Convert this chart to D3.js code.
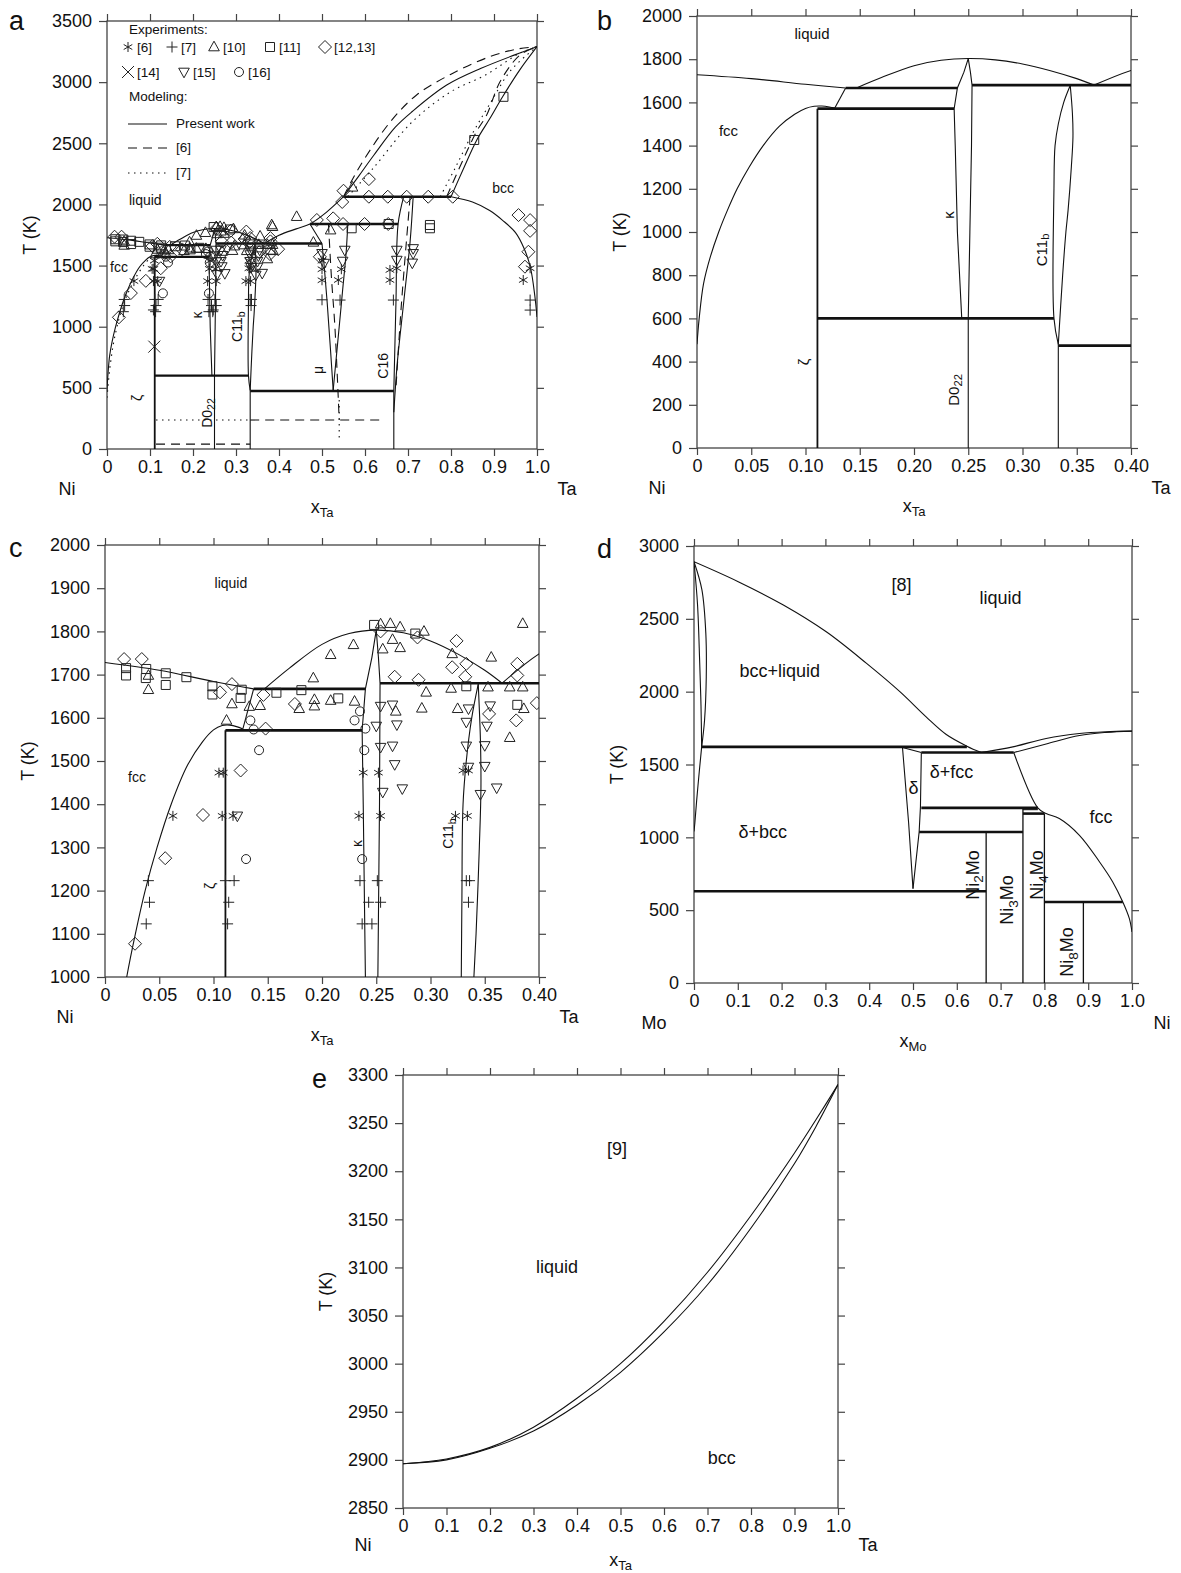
<!DOCTYPE html>
<html>
<head>
<meta charset="utf-8">
<script src="https://cdn.jsdelivr.net/npm/d3@7"></script>
<style>
  body { margin: 0; background: #fff; }
  svg text { font-family: "Liberation Sans", Arial, Helvetica, sans-serif; fill: #111; }
</style>
</head>
<body>
<svg id="fig" width="1181" height="1573"></svg>
<script>
const FONT = '"Liberation Sans", Arial, Helvetica, sans-serif'

// ---------- Ni-Ta, present work (a, b, c) ----------
const fccSolvus = [[0,480],[0.002,600],[0.006,760],[0.012,880],[0.02,1000],[0.028,1100],[0.037,1200],[0.048,1300],[0.061,1400],[0.076,1490],[0.09,1545],[0.10,1572],[0.108,1582],[0.115,1583],[0.122,1579],[0.127,1574]]
const liqNiSide = [[0,1728],[0.05,1710],[0.10,1684],[0.137,1667]]
const fccZetaLine = [[0.127,1574],[0.137,1667]]
const kappaLiquidus = [[0.147,1667],[0.17,1715],[0.20,1770],[0.225,1795],[0.25,1803],[0.275,1797],[0.30,1778],[0.325,1748],[0.35,1710],[0.366,1680]]
const liqMu = [[0.366,1680],[0.40,1748],[0.44,1800],[0.472,1840],[0.51,1935],[0.55,2063]]
const kappaLeft = [[0.25,1803],[0.246,1740],[0.240,1667],[0.237,1571],[0.238,1400],[0.240,1000],[0.242,800],[0.244,600]]
const kappaRight = [[0.25,1803],[0.252,1740],[0.2535,1680],[0.253,1400],[0.2515,1000],[0.25,600]]
const c11bLeft = [[0.344,1678],[0.338,1600],[0.333,1500],[0.330,1400],[0.329,1200],[0.329,600],[0.333,480]]
const c11bRight = [[0.344,1678],[0.346,1550],[0.3465,1440],[0.345,1300],[0.342,1100],[0.340,1000],[0.337,800],[0.333,480]]
const liqTa = [[0.55,2063],[0.585,2230],[0.62,2400],[0.67,2630],[0.71,2760],[0.79,2976],[0.87,3113],[0.95,3225],[1.0,3290]]
const solTa = [[0.80,2063],[0.83,2300],[0.86,2527],[0.89,2700],[0.92,2880],[0.96,3100],[1.0,3290]]
const solvusTa = [[0.80,2063],[0.85,2020],[0.89,1950],[0.92,1870],[0.95,1770],[0.97,1640],[0.985,1480],[0.995,1250],[1.0,1080]]
const muLeft = [[0.472,1840],[0.50,1680],[0.505,1500],[0.512,1200],[0.52,800],[0.526,482]]
const muRight = [[0.56,1840],[0.556,1600],[0.548,1300],[0.54,1000],[0.526,482]]
const c16Left = [[0.69,2063],[0.677,1840],[0.672,1200],[0.667,474]]
const c16Right = [[0.712,2063],[0.705,1700],[0.69,1200],[0.675,700],[0.667,300]]
// [x1, x2, T]
const niTaInvariants = [[0.137,0.240,1667],[0.2535,0.50,1680],[0.111,0.237,1571],[0.111,0.329,600],[0.333,0.667,474],[0.472,0.677,1840],[0.55,0.80,2063]]
// [x, T1, T2]
const niTaVerticals = [[0.25,0,600],[0.333,0,480],[0.667,0,474]]
const zetaLine = [[0.111,0],[0.111,1571]]

// ---------- Ni-Ta, earlier modeling (a) ----------
const liqTa6 = [[0.55,2063],[0.57,2200],[0.60,2380],[0.66,2680],[0.72,2895],[0.80,3065],[0.89,3208],[0.95,3268],[1.0,3290]]
const solTa6 = [[0.79,2063],[0.83,2380],[0.86,2600],[0.883,2731],[0.914,3003],[0.96,3220],[1.0,3290]]
const mu6 = [[0.515,1840],[0.522,1400],[0.53,1000],[0.54,237]]
const c16_6 = [[0.705,2063],[0.685,1200],[0.672,500]]
const low6 = [[0.114,0.333,40],[0.333,0.64,237]]
const liqTa7 = [[0.56,2063],[0.62,2300],[0.71,2676],[0.80,2922],[0.88,3058],[0.96,3236],[1.0,3290]]
const solTa7 = [[0.775,2063],[0.81,2300],[0.85,2580],[0.89,2820],[0.94,3100],[1.0,3290]]
const fcc7 = [[0,420],[0.008,700],[0.02,950],[0.04,1200],[0.07,1420],[0.10,1560],[0.12,1600]]
const mu7 = [[0.54,400],[0.54,80]]
const low7 = [[0.114,0.333,237]]

// ---------- experiments (x, T) ----------
const exp6 = [[0.105,1473],[0.109,1473],[0.238,1473],[0.252,1473],[0.330,1478],[0.335,1478],[0.0626,1373],[0.108,1373],[0.118,1373],[0.234,1373],[0.254,1373],[0.323,1373],[0.334,1373]]
const exp7 = [[0.040,1223],[0.041,1173],[0.038,1123],[0.111,1223],[0.119,1223],[0.114,1173],[0.113,1123],[0.235,1223],[0.251,1223],[0.243,1173],[0.254,1173],[0.237,1123],[0.246,1123],[0.333,1223],[0.336,1223],[0.335,1173]]
const exp10 = [[0.040,1665],[0.040,1698],[0.112,1594],[0.117,1632],[0.133,1626],[0.143,1628],[0.179,1621],[0.192,1692],[0.193,1642],[0.193,1627],[0.208,1746],[0.208,1640],[0.229,1769],[0.230,1638],[0.254,1817],[0.263,1818],[0.272,1810],[0.256,1759],[0.265,1781],[0.272,1762],[0.294,1800],[0.296,1659],[0.292,1622],[0.320,1748],[0.319,1668],[0.325,1621],[0.356,1740],[0.353,1671],[0.373,1671],[0.385,1671],[0.385,1818],[0.373,1554],[0.386,1621],[0.268,1615]]
const exp11 = [[0.0194,1715],[0.0194,1698],[0.038,1713],[0.0376,1692],[0.056,1703],[0.056,1676],[0.075,1694],[0.099,1673],[0.099,1654],[0.126,1665],[0.125,1646],[0.158,1658],[0.181,1664],[0.215,1645],[0.248,1815],[0.286,1795],[0.333,1673],[0.380,1630]]
const exp12 = [[0.0176,1736],[0.0339,1736],[0.117,1678],[0.106,1659],[0.146,1653],[0.175,1632],[0.148,1575],[0.267,1695],[0.289,1688],[0.288,1786],[0.324,1778],[0.320,1717],[0.333,1725],[0.332,1695],[0.354,1609],[0.380,1725],[0.380,1698],[0.379,1594],[0.398,1634],[0.125,1478],[0.0903,1375],[0.0555,1275],[0.0277,1077],[0.254,1800]]
const exp15 = [[0.254,1627],[0.265,1630],[0.269,1584],[0.250,1581],[0.254,1532],[0.265,1535],[0.267,1492],[0.256,1428],[0.274,1436],[0.335,1621],[0.333,1590],[0.355,1628],[0.352,1581],[0.333,1535],[0.350,1536],[0.335,1486],[0.350,1488],[0.346,1423],[0.361,1438],[0.122,1373]]
const exp16 = [[0.134,1594],[0.137,1573],[0.142,1525],[0.235,1615],[0.230,1594],[0.240,1575],[0.239,1525],[0.130,1273],[0.237,1273]]
// points only visible in the full range of panel a
const exp6Wide = [[0.538,1382],[0.658,1464],[0.658,1382],[0.674,1478],[0.968,1382],[0.984,1478],[0.50,1470],[0.50,1380],[0.545,1470],[0.11,1540],[0.24,1540],[0.33,1540],[0.50,1540]]
const exp7Wide = [[0.542,1218],[0.666,1218],[0.984,1218],[0.984,1136],[0.50,1220],[0.108,1137],[0.247,1137]]
const exp10Wide = [[0.571,2140],[0.383,1832],[0.441,1900],[0.52,1790],[0.48,1690]]
const exp11Wide = [[0.854,2527],[0.922,2880],[0.569,1805],[0.655,1840],[0.751,1832],[0.751,1805]]
const exp12Wide = [[0.488,1873],[0.526,1886],[0.549,1840],[0.599,1840],[0.654,1840],[0.55,2112],[0.547,2020],[0.609,2207],[0.609,2063],[0.653,2063],[0.697,2063],[0.747,2063],[0.804,2063],[0.495,1572],[0.957,1913],[0.984,1872],[0.984,1784],[0.98,1613],[0.972,1491]]
const exp14Wide = [[0.11,837]]
const exp15Wide = [[0.553,1627],[0.548,1537],[0.674,1627],[0.674,1545],[0.712,1640],[0.712,1600],[0.71,1522],[0.50,1600],[0.505,1520]]

// ---------- Mo-Ni (d), x = x_Mo axis as printed ----------
const moLiquidus = [[0,2892],[0.101,2755],[0.204,2595],[0.302,2411],[0.394,2194],[0.47,2000],[0.53,1827],[0.576,1706],[0.623,1626],[0.656,1582]]
const moBccOuter = [[0,2892],[0.018,2700],[0.027,2400],[0.028,2100],[0.024,1800],[0.0175,1621]]
const moBccInner = [[0,2892],[0.008,2600],[0.013,2200],[0.016,1900],[0.0175,1621]]
const moBccSolvus = [[0.0175,1621],[0.012,1450],[0.006,1250],[0.002,1100],[0,1040]]
const deltaTop = [[0.476,1617],[0.519,1582]]
const deltaLeft = [[0.476,1617],[0.49,1100],[0.5,648]]
const deltaRight = [[0.519,1582],[0.517,1209],[0.514,1037],[0.5,648]]
const niLiquidus = [[0.656,1582],[0.728,1621],[0.804,1679],[0.88,1713],[0.94,1725],[1.0,1729]]
const niSolidus = [[0.730,1582],[0.804,1641],[0.88,1699],[0.94,1720],[1.0,1729]]
const niFccSolvus = [[0.730,1582],[0.785,1202],[0.804,1163],[0.834,1129],[0.88,1014],[0.926,831],[0.956,694],[0.979,556],[0.994,442],[1.0,350]]
const moNiInvariants = [[0.0175,0.623,1621],[0.519,0.730,1582],[0.519,0.785,1202],[0.751,0.80,1163],[0.514,0.751,1037],[0,0.667,630],[0.80,0.979,556]]
const moNiThin = [[0.751,0.785,1190]]
const moNiVerticals = [[0.667,0,1037],[0.751,0,1202],[0.80,0,1163],[0.889,0,556]]

// ---------- Ni-Ta high temperature (e) ----------
const eLiquidus = [[0,2896],[0.1,2901],[0.2,2913],[0.3,2934],[0.4,2964],[0.5,3000],[0.6,3044],[0.7,3095],[0.8,3154],[0.9,3219],[0.95,3254],[1.0,3290]]
const eSolidus = [[0,2896],[0.1,2900],[0.2,2912],[0.3,2930],[0.4,2957],[0.5,2991],[0.6,3033],[0.7,3082],[0.8,3141],[0.9,3208],[0.95,3247],[1.0,3290]]

// ---------- ticks ----------
const ticksX10 = [0,0.1,0.2,0.3,0.4,0.5,0.6,0.7,0.8,0.9,1.0]
const ticksX04 = [0,0.05,0.10,0.15,0.20,0.25,0.30,0.35,0.40]
const ticksYa = [0,500,1000,1500,2000,2500,3000,3500]
const ticksYb = [0,200,400,600,800,1000,1200,1400,1600,1800,2000]
const ticksYc = [1000,1100,1200,1300,1400,1500,1600,1700,1800,1900,2000]
const ticksYd = [0,500,1000,1500,2000,2500,3000]
const ticksYe = [2850,2900,2950,3000,3050,3100,3150,3200,3250,3300]

// ---------- region labels [parts, x, T, size, rotated] ----------
const labelsA = [
  [[["liquid"]],0.051,2036,14,0,"start"],[[["fcc"]],0.007,1488,14,0,"start"],[[["bcc"]],0.921,2134,14,0],
  [[["κ"]],0.209,1096,14,1],[[["C11"],["b",1]],0.302,1000,14,1],[[["ζ"]],0.07,417,14,1],
  [[["D0"],["22",1]],0.233,294,14,1],[[["μ"]],0.49,646,14,1],[[["C16"]],0.642,680,14,1]
]
const labelsB = [
  [[["liquid"]],0.106,1921,15,0],[[["fcc"]],0.029,1472,15,0],[[["κ"]],0.231,1079,15,1],
  [[["C11"],["b",1]],0.317,917,15,1],[[["ζ"]],0.098,398,15,1],[[["D0"],["22",1]],0.236,269,15,1]
]
const labelsC = [
  [[["liquid"]],0.116,1912,14,0],[[["fcc"]],0.0295,1462,14,0],[[["ζ"]],0.097,1211,14,1],
  [[["κ"]],0.232,1309,14,1],[[["C11"],["b",1]],0.316,1332,14,1]
]
const labelsD = [
  [[["[8]"]],0.474,2732,18,0],[[["liquid"]],0.70,2642,18,0],[[["bcc+liquid"]],0.196,2141,18,0],
  [[["δ+fcc"]],0.588,1448,18,0],[[["δ"]],0.501,1338,18,0],[[["δ+bcc"]],0.157,1036,18,0],[[["fcc"]],0.929,1139,18,0],
  [[["Ni"],["2",1],["Mo"]],0.636,741,18,1],[[["Ni"],["3",1],["Mo"]],0.715,570,18,1],
  [[["Ni"],["4",1],["Mo"]],0.784,741,18,1],[[["Ni"],["8",1],["Mo"]],0.852,213,18,1]
]
const labelsE = [[[["[9]"]],0.492,3223,18,0],[[["liquid"]],0.354,3100,18,0],[[["bcc"]],0.733,2902,18,0]]

const svg = d3.select("#fig")
const defs = svg.append("defs")
const f1 = d => d === 0 ? "0" : d.toFixed(1)
const f2 = d => d === 0 ? "0" : d.toFixed(2)

const SYM = {
  star: "M0,-5V5M-4.3,-2.5L4.3,2.5M-4.3,2.5L4.3,-2.5",
  plus: "M-5.5,0H5.5M0,-5.5V5.5",
  tri: "M0,-5.8L5.3,3.8H-5.3Z",
  triD: "M0,5.8L5.3,-3.8H-5.3Z",
  sq: "M-4.5,-4.5H4.5V4.5H-4.5Z",
  dia: "M0,-6.5L6.5,0L0,6.5L-6.5,0Z",
  x: "M-6,-6L6,6M-6,6L6,-6",
  circ: "M4.5,0A4.5,4.5 0 1,1 -4.5,0A4.5,4.5 0 1,1 4.5,0Z"
}

function panel(o) {
  const g = svg.append("g").attr("transform", `translate(${o.left},${o.top})`)
  const x = d3.scaleLinear().domain(o.xd).range([0, o.w])
  const y = d3.scaleLinear().domain(o.yd).range([o.h, 0])
  defs.append("clipPath").attr("id", "clip" + o.name)
    .append("rect").attr("width", o.w).attr("height", o.h)

  const axes = [
    [d3.axisLeft(y).tickValues(o.yt).tickFormat(o.yf).tickSize(8).tickPadding(7), null],
    [d3.axisBottom(x).tickValues(o.xt).tickFormat(o.xf).tickSize(7).tickPadding(4), `translate(0,${o.h})`],
    [d3.axisTop(x).tickValues(o.xt).tickFormat("").tickSize(7), null],
    [d3.axisRight(y).tickValues(o.yt).tickFormat("").tickSize(7), `translate(${o.w},0)`]
  ]
  axes.forEach(([ax, tr]) => {
    const a = g.append("g").attr("transform", tr).call(ax.tickSizeOuter(0))
    a.select(".domain").remove()
    a.attr("font-size", 18).attr("font-family", FONT)
    a.selectAll("line").attr("stroke", "#444").attr("stroke-width", 1.2)
    a.selectAll("text").attr("fill", "#111")
  })
  g.append("rect").attr("width", o.w).attr("height", o.h)
    .attr("fill", "none").attr("stroke", "#444").attr("stroke-width", 1.3)

  // axis titles
  const low = o.low || 0
  g.append("text").attr("transform", `translate(-77,${o.h / 2}) rotate(-90)`)
    .attr("text-anchor", "middle").attr("dominant-baseline", "central")
    .attr("font-size", 18).text("T (K)")
  g.append("text").attr("x", -40).attr("y", o.h + 40 - low).attr("text-anchor", "middle")
    .attr("dominant-baseline", "central").attr("font-size", 18).text(o.ends[0])
  g.append("text").attr("x", o.w + 30).attr("y", o.h + 40 - low).attr("text-anchor", "middle")
    .attr("dominant-baseline", "central").attr("font-size", 18).text(o.ends[1])
  const xl = g.append("text").attr("x", o.w / 2).attr("y", o.h + 58 - low * 2).attr("text-anchor", "middle")
    .attr("dominant-baseline", "central").attr("font-size", 18)
  xl.append("tspan").text("x")
  xl.append("tspan").attr("font-size", 13).attr("dy", 5).text(o.sub)

  svg.append("text").attr("x", o.letter[0]).attr("y", o.letter[1])
    .attr("font-size", 27).text(o.name)

  const plot = g.append("g").attr("clip-path", `url(#clip${o.name})`)
  return { g, x, y, plot }
}

function curve(p, pts, opt) {
  opt = opt || {}
  const gen = d3.line().x(d => p.x(d[0])).y(d => p.y(d[1]))
    .curve(opt.linear ? d3.curveLinear : d3.curveCatmullRom.alpha(0.5))
  p.plot.append("path").datum(pts).attr("d", gen)
    .attr("fill", "none").attr("stroke", opt.color || "#111")
    .attr("stroke-width", opt.width || 1.1)
    .attr("stroke-dasharray", opt.dash || null)
}

function hlines(p, arr, opt) {
  arr.forEach(([x1, x2, t]) => curve(p, [[x1, t], [x2, t]], Object.assign({ linear: true }, opt)))
}
function vlines(p, arr, opt) {
  arr.forEach(([xv, t1, t2]) => curve(p, [[xv, t1], [xv, t2]], Object.assign({ linear: true }, opt)))
}

function points(p, pts, type) {
  p.plot.append("g").selectAll("path").data(pts).join("path")
    .attr("transform", d => `translate(${p.x(d[0])},${p.y(d[1])})`)
    .attr("d", SYM[type]).attr("fill", "none")
    .attr("stroke", "#222").attr("stroke-width", 1)
}

function labels(p, arr) {
  arr.forEach(([parts, xv, t, size, rot, anchor]) => {
    const tx = p.x(xv), ty = p.y(t)
    const el = p.g.append("text")
      .attr("transform", rot ? `translate(${tx},${ty}) rotate(-90)` : `translate(${tx},${ty})`)
      .attr("text-anchor", anchor || "middle").attr("dominant-baseline", "central")
      .attr("font-size", size)
    let shifted = false
    parts.forEach(([s, isSub]) => {
      const ts = el.append("tspan").text(s)
      if (isSub) { ts.attr("font-size", size * 0.75).attr("dy", size * 0.3); shifted = true }
      else if (shifted) { ts.attr("dy", -size * 0.3); shifted = false }
    })
  })
}

function niTaPresent(p, thick) {
  curve(p, fccSolvus)
  curve(p, liqNiSide)
  curve(p, fccZetaLine, { linear: true })
  curve(p, kappaLiquidus)
  curve(p, liqMu)
  curve(p, kappaLeft, { linear: true })
  curve(p, kappaRight, { linear: true })
  curve(p, c11bLeft)
  curve(p, c11bRight)
  vlines(p, niTaVerticals)
  curve(p, zetaLine, { linear: true, width: 1.8 })
  hlines(p, niTaInvariants, { width: thick })
}

// ======== panel a ========
const pa = panel({ name: "a", left: 107, top: 21, w: 430, h: 428, xd: [0, 1], yd: [0, 3500],
  xt: ticksX10, yt: ticksYa, xf: f1, yf: d3.format("d"), ends: ["Ni", "Ta"], sub: "Ta", letter: [9, 30] })
niTaPresent(pa, 2.4)
curve(pa, liqTa)
curve(pa, solTa)
curve(pa, solvusTa)
curve(pa, muLeft, { linear: true })
curve(pa, muRight)
curve(pa, c16Left)
curve(pa, c16Right)
const dash6 = "9,6", dot7 = "1.5,4.5"
curve(pa, liqTa6, { dash: dash6 })
curve(pa, solTa6, { dash: dash6 })
curve(pa, mu6, { dash: dash6 })
curve(pa, c16_6, { dash: dash6 })
hlines(pa, low6, { dash: dash6 })
curve(pa, liqTa7, { dash: dot7 })
curve(pa, solTa7, { dash: dot7 })
curve(pa, fcc7, { dash: dot7 })
curve(pa, mu7, { dash: dot7, linear: true })
hlines(pa, low7, { dash: dot7 })
points(pa, exp6.concat(exp6Wide), "star")
points(pa, exp7.concat(exp7Wide), "plus")
points(pa, exp10.concat(exp10Wide), "tri")
points(pa, exp11.concat(exp11Wide), "sq")
points(pa, exp12.concat(exp12Wide), "dia")
points(pa, exp14Wide, "x")
points(pa, exp15.concat(exp15Wide), "triD")
points(pa, exp16, "circ")
labels(pa, labelsA)

// legend of panel a
const lg = pa.g.append("g").attr("font-size", 13.5)
lg.append("text").attr("x", 22).attr("y", 13).text("Experiments:")
const legendSyms = [["star", "[6]", 21, 26], ["plus", "[7]", 65, 26], ["tri", "[10]", 107, 26], ["sq", "[11]", 163, 26],
  ["dia", "[12,13]", 218, 26], ["x", "[14]", 21, 51], ["triD", "[15]", 77, 51], ["circ", "[16]", 132, 51]]
legendSyms.forEach(([s, t, lx, ly]) => {
  lg.append("path").attr("transform", `translate(${lx},${ly})`).attr("d", SYM[s])
    .attr("fill", "none").attr("stroke", "#222").attr("stroke-width", 1)
  lg.append("text").attr("x", lx + 9).attr("y", ly + 5).text(t)
})
lg.append("text").attr("x", 22).attr("y", 80).text("Modeling:")
const legendLines = [[null, "Present work", 103], [dash6, "[6]", 127], [dot7, "[7]", 152]]
legendLines.forEach(([da, t, ly]) => {
  lg.append("line").attr("x1", 21).attr("x2", 60).attr("y1", ly).attr("y2", ly)
    .attr("stroke", "#111").attr("stroke-width", 1.1).attr("stroke-dasharray", da)
  lg.append("text").attr("x", 69).attr("y", ly + 4).text(t)
})

// ======== panel b ========
const pb = panel({ name: "b", left: 697, top: 16, w: 434, h: 432, xd: [0, 0.4], yd: [0, 2000],
  xt: ticksX04, yt: ticksYb, xf: f2, yf: d3.format("d"), ends: ["Ni", "Ta"], sub: "Ta", letter: [597, 30] })
niTaPresent(pb, 2.6)
labels(pb, labelsB)

// ======== panel c ========
const pc = panel({ name: "c", left: 105, top: 545, w: 434, h: 432, xd: [0, 0.4], yd: [1000, 2000],
  xt: ticksX04, yt: ticksYc, xf: f2, yf: d3.format("d"), ends: ["Ni", "Ta"], sub: "Ta", letter: [9, 557] })
niTaPresent(pc, 2.6)
points(pc, exp6, "star")
points(pc, exp7, "plus")
points(pc, exp10, "tri")
points(pc, exp11, "sq")
points(pc, exp12, "dia")
points(pc, exp15, "triD")
points(pc, exp16, "circ")
labels(pc, labelsC)

// ======== panel d ========
const pd = panel({ name: "d", left: 694, top: 546, w: 438, h: 437, xd: [0, 1], yd: [0, 3000],
  xt: ticksX10, yt: ticksYd, xf: f1, yf: d3.format("d"), ends: ["Mo", "Ni"], sub: "Mo", letter: [597, 558] })
curve(pd, moLiquidus)
curve(pd, moBccOuter)
curve(pd, moBccInner)
curve(pd, moBccSolvus)
curve(pd, deltaTop, { linear: true })
curve(pd, deltaLeft, { linear: true })
curve(pd, deltaRight, { linear: true })
curve(pd, niLiquidus)
curve(pd, niSolidus)
curve(pd, niFccSolvus)
vlines(pd, moNiVerticals, { width: 1.3 })
hlines(pd, moNiThin)
hlines(pd, moNiInvariants, { width: 2.6 })
labels(pd, labelsD)

// ======== panel e ========
const pe = panel({ name: "e", left: 403, top: 1075, w: 435, h: 433, xd: [0, 1], yd: [2850, 3300],
  xt: ticksX10, yt: ticksYe, xf: f1, yf: d3.format("d"), ends: ["Ni", "Ta"], sub: "Ta", letter: [312, 1088], low: 3 })
curve(pe, eLiquidus)
curve(pe, eSolidus)
labels(pe, labelsE)
</script>
</body>
</html>
